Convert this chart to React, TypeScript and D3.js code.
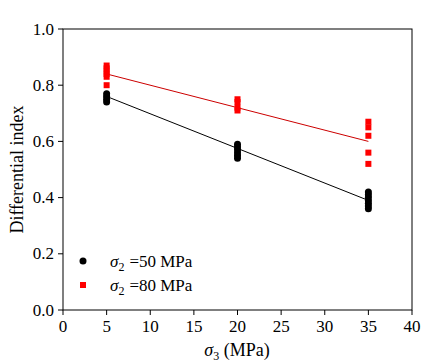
import React from "react";
import * as d3 from "d3";

const xTicks = [0, 5, 10, 15, 20, 25, 30, 35, 40];
const yTicks = [0.0, 0.2, 0.4, 0.6, 0.8, 1.0];

const s50X = [5, 5, 5, 5, 20, 20, 20, 20, 20, 20, 35, 35, 35, 35, 35, 35, 35];
const s50Y = [0.77, 0.76, 0.75, 0.74, 0.59, 0.58, 0.57, 0.56, 0.55, 0.54, 0.42, 0.41, 0.4, 0.39, 0.38, 0.37, 0.36];
const s80X = [5, 5, 5, 5, 5, 5, 20, 20, 20, 20, 35, 35, 35, 35, 35];
const s80Y = [0.87, 0.86, 0.85, 0.84, 0.83, 0.8, 0.75, 0.74, 0.72, 0.71, 0.67, 0.65, 0.62, 0.56, 0.52];
const fit50 = [[5, 0.76], [35, 0.39]];
const fit80 = [[5, 0.84], [35, 0.6]];

export default function App() {
  const W = 438, H = 363;
  const left = 63, right = 412, top = 29, bottom = 310;
  const x = d3.scaleLinear().domain([0, 40]).range([left, right]);
  const y = d3.scaleLinear().domain([0, 1]).range([bottom, top]);
  const line = d3.line<number[]>().x(d => x(d[0])).y(d => y(d[1]));
  const font = '"Liberation Serif", "Times New Roman", Times, serif';
  return (
    <svg width={W} height={H} style={{ position: "absolute", left: 0, top: 0, background: "#fff", fontFamily: font }}>
      <rect x={left} y={top} width={right - left} height={bottom - top} fill="none" stroke="#000" strokeWidth={1} />
      {xTicks.map(t => (
        <g key={"x" + t}>
          <line x1={x(t)} x2={x(t)} y1={bottom} y2={bottom + 5} stroke="#000" />
          <text x={x(t)} y={332} fontSize={17} textAnchor="middle">{t}</text>
        </g>
      ))}
      {yTicks.map(t => (
        <g key={"y" + t}>
          <line x1={left - 5} x2={left} y1={y(t)} y2={y(t)} stroke="#000" />
          <text x={54} y={y(t) + 5.5} fontSize={17} textAnchor="end">{t.toFixed(1)}</text>
        </g>
      ))}
      <text transform={`translate(23,${(top + bottom) / 2}) rotate(-90)`} fontSize={18} textAnchor="middle">Differential index</text>
      <text x={237} y={356} fontSize={18} textAnchor="middle">
        <tspan fontStyle="italic">σ</tspan><tspan fontSize={12} dy={4}>3</tspan><tspan dy={-4}> (MPa)</tspan>
      </text>
      <path d={line(fit80) || ""} stroke="#cc0000" strokeWidth={1} fill="none" />
      <path d={line(fit50) || ""} stroke="#000" strokeWidth={1} fill="none" />
      {s80X.map((v, i) => (
        <rect key={"r" + i} x={x(v) - 3} y={y(s80Y[i]) - 3} width={6} height={6} fill="#ff0000" />
      ))}
      {s50X.map((v, i) => (
        <circle key={"c" + i} cx={x(v)} cy={y(s50Y[i])} r={3.5} fill="#000" />
      ))}
      <circle cx={83} cy={261} r={3.5} fill="#000" />
      <rect x={80} y={282} width={6} height={6} fill="#ff0000" />
      <text x={110} y={267} fontSize={17}>
        <tspan fontStyle="italic">σ</tspan><tspan fontSize={12} dy={4}>2</tspan><tspan dy={-4} dx={5}>=50 MPa</tspan>
      </text>
      <text x={110} y={291} fontSize={17}>
        <tspan fontStyle="italic">σ</tspan><tspan fontSize={12} dy={4}>2</tspan><tspan dy={-4} dx={5}>=80 MPa</tspan>
      </text>
    </svg>
  );
}
